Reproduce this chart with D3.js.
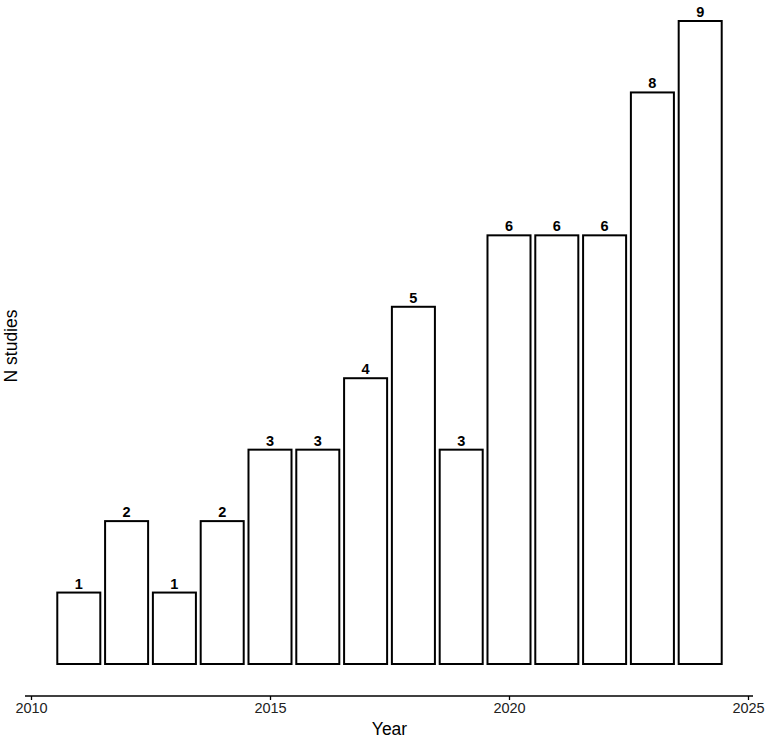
<!DOCTYPE html>
<html>
<head>
<meta charset="utf-8">
<script src="https://cdn.jsdelivr.net/npm/d3@7"></script>
<style>
  body { margin: 0; background: #fff; }
  text { font-family: "Liberation Sans", Arial, sans-serif; }
</style>
</head>
<body>
<script>
var years = [2011, 2012, 2013, 2014, 2015, 2016, 2017, 2018, 2019, 2020, 2021, 2022, 2023, 2024];
var counts = [1, 2, 1, 2, 3, 3, 4, 5, 3, 6, 6, 6, 8, 9];
var xTicks = [2010, 2015, 2020, 2025];

var W = 767, H = 747;

var x = d3.scaleLinear().domain([2010, 2025]).range([31, 748]);
var y = d3.scaleLinear().domain([0, 9]).range([664, 21]);
var barW = (x(2011) - x(2010)) * 0.9;

var svg = d3.select("body").append("svg")
    .attr("width", W)
    .attr("height", H);

svg.selectAll("rect.bar")
    .data(counts)
  .enter().append("rect")
    .attr("class", "bar")
    .attr("x", function(d, i) { return x(years[i]) - barW / 2; })
    .attr("y", function(d) { return y(d); })
    .attr("width", barW)
    .attr("height", function(d) { return y(0) - y(d); })
    .attr("fill", "#fff")
    .attr("stroke", "#000")
    .attr("stroke-width", 2);

svg.selectAll("text.val")
    .data(counts)
  .enter().append("text")
    .attr("class", "val")
    .attr("x", function(d, i) { return x(years[i]); })
    .attr("y", function(d) { return y(d) - 4; })
    .attr("text-anchor", "middle")
    .style("font-size", "14.5px")
    .style("font-weight", "bold")
    .text(function(d) { return d; });

// x axis
var axisY = 696;
svg.append("line")
    .attr("x1", 25).attr("x2", 753)
    .attr("y1", axisY).attr("y2", axisY)
    .attr("stroke", "#000")
    .attr("stroke-width", 1.6);

var ax = svg.append("g")
    .attr("transform", "translate(0," + axisY + ")")
    .call(d3.axisBottom(x).tickValues(xTicks).tickFormat(d3.format("d")).tickSize(4).tickPadding(3));
ax.select(".domain").remove();
ax.selectAll(".tick line").attr("stroke", "#000").attr("stroke-width", 1.3);
ax.selectAll(".tick text")
    .attr("fill", "#222")
    .style("font-size", "14.5px")
    .style("font-family", "Liberation Sans, Arial, sans-serif");

svg.append("text")
    .attr("x", (x(2010) + x(2025)) / 2)
    .attr("y", 735)
    .attr("text-anchor", "middle")
    .style("font-size", "17.5px")
    .text("Year");

svg.append("text")
    .attr("transform", "translate(17,346) rotate(-90)")
    .attr("text-anchor", "middle")
    .style("font-size", "17.5px")
    .text("N studies");
</script>
</body>
</html>
